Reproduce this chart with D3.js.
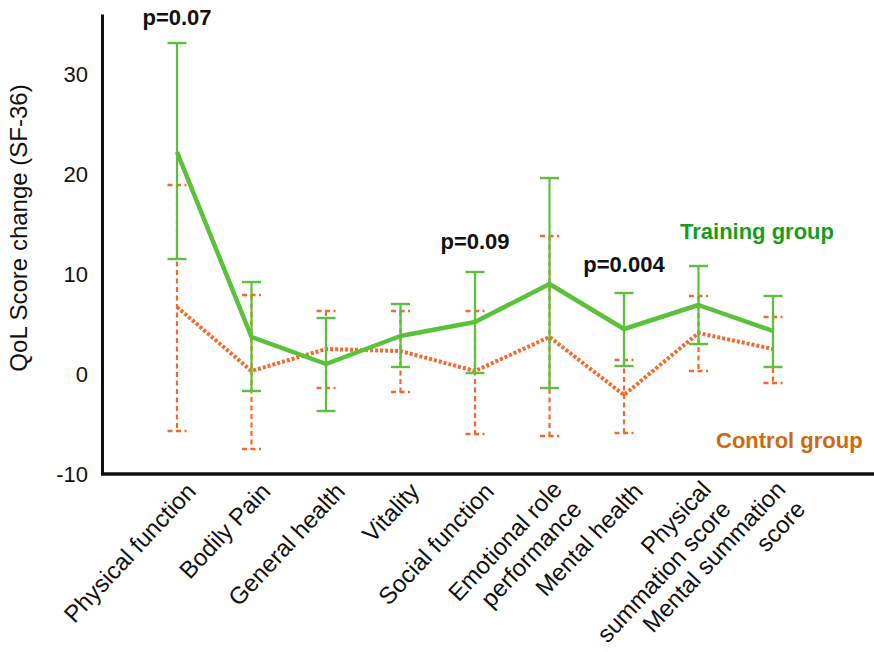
<!DOCTYPE html>
<html>
<head>
<meta charset="utf-8">
<script src="https://cdn.jsdelivr.net/npm/d3@7"></script>
<style>
  html, body { margin: 0; padding: 0; background: #fff; }
  svg { display: block; font-family: "Liberation Sans", Arial, sans-serif; }
</style>
</head>
<body>
<svg id="chart" width="874" height="652"></svg>
<script>
// SF-36 domains (multi-line labels split on "|")
const categories = [
  "Physical function", "Bodily Pain", "General health", "Vitality",
  "Social function", "Emotional role|performance", "Mental health",
  "Physical|summation score", "Mental summation|score"
];

// Training group: mean change and error bar limits
const trainMean = [22.2, 3.7, 1.0, 3.8, 5.2, 9.0, 4.5, 6.9, 4.3];
const trainHigh = [33.1, 9.2, 5.6, 7.0, 10.2, 19.6, 8.1, 10.8, 7.8];
const trainLow  = [11.5, -1.7, -3.7, 0.7, 0.1, -1.4, 0.8, 3.0, 0.7];

// Control group: mean change and error bar limits
const ctrlMean = [6.7, 0.3, 2.5, 2.3, 0.3, 3.7, -2.1, 4.1, 2.5];
const ctrlHigh = [18.9, 7.9, 6.3, 6.3, 6.3, 13.8, 1.4, 7.8, 5.7];
const ctrlLow  = [-5.7, -7.5, -1.4, -1.8, -6.0, -6.2, -5.9, 0.3, -0.9];

const yTicks = [-10, 0, 10, 20, 30];

// p-value annotations: text, category index, vertical value
const pTexts = ["p=0.07", "p=0.09", "p=0.004"];
const pIndex = [0, 4, 6];
const pValueY = [34.9, 12.5, 10.2];

const svg = d3.select("#chart");

const x = d3.scalePoint().domain(categories).range([177, 773]).padding(0);
const y = d3.scaleLinear().domain([-10, 36]).range([474, 14]);

const GREEN = "#5bc13a";
const ORANGE = "#f46a2c";

// Y axis
const yAxis = svg.append("g")
  .attr("transform", "translate(102,0)")
  .call(d3.axisLeft(y).tickValues(yTicks).tickSize(0).tickSizeOuter(0).tickPadding(14).tickFormat(d => String(d)));
yAxis.select(".domain").attr("stroke", "#111").attr("stroke-width", 3);
yAxis.selectAll(".tick text")
  .attr("font-size", 22).attr("fill", "#111")
  .attr("font-family", "Liberation Sans, Arial, sans-serif");

// X axis baseline spanning to the right edge
svg.append("line")
  .attr("x1", 101).attr("x2", 874)
  .attr("y1", y(-10)).attr("y2", y(-10))
  .attr("stroke", "#111").attr("stroke-width", 3.5);

// X axis labels, rotated and right-aligned under each category
const xAxis = svg.append("g")
  .attr("transform", `translate(0,${y(-10)})`)
  .call(d3.axisBottom(x).tickSize(0).tickSizeOuter(0));
xAxis.select(".domain").remove();
xAxis.selectAll(".tick text").each(function(d) {
  const lines = d.split("|");
  const t = d3.select(this);
  const multi = lines.length > 1;
  const v = multi ? 21 : 27;
  t.text(null)
    .attr("transform", "rotate(-47)")
    .attr("text-anchor", "end")
    .attr("x", 0).attr("y", v).attr("dy", null)
    .attr("font-size", 24).attr("fill", "#111")
    .attr("font-family", "Liberation Sans, Arial, sans-serif");
  lines.forEach((line, i) => {
    t.append("tspan")
      .attr("x", multi ? -3 - i : 0)
      .attr("dy", i === 0 ? 0 : 28)
      .text(line);
  });
});

// Y axis title
svg.append("text")
  .attr("transform", "translate(27,228) rotate(-90)")
  .attr("text-anchor", "middle")
  .attr("font-size", 24).attr("fill", "#111")
  .text("QoL Score change (SF-36)");

// Error bars
function errorBars(high, low, color, dash) {
  const g = svg.append("g");
  categories.forEach((c, i) => {
    const cx = x(c);
    g.append("line")
      .attr("x1", cx).attr("x2", cx)
      .attr("y1", y(high[i])).attr("y2", y(low[i]))
      .attr("stroke", color).attr("stroke-width", 2.2)
      .attr("stroke-dasharray", dash);
    [high[i], low[i]].forEach(v => {
      g.append("line")
        .attr("x1", cx - 9.5).attr("x2", cx + 9.5)
        .attr("y1", y(v)).attr("y2", y(v))
        .attr("stroke", color).attr("stroke-width", 2.4)
        .attr("stroke-dasharray", dash);
    });
  });
}

const line = d3.line().x((d, i) => x(categories[i])).y(d => y(d));

// Control group (dashed bars, dotted line)
errorBars(ctrlHigh, ctrlLow, ORANGE, "5,3.5");
svg.append("path")
  .datum(ctrlMean)
  .attr("d", line)
  .attr("fill", "none")
  .attr("stroke", ORANGE).attr("stroke-width", 4)
  .attr("stroke-dasharray", "3,2");

// Training group (solid bars, solid line)
errorBars(trainHigh, trainLow, GREEN, null);
svg.append("path")
  .datum(trainMean)
  .attr("d", line)
  .attr("fill", "none")
  .attr("stroke", GREEN).attr("stroke-width", 4.5)
  .attr("stroke-linejoin", "round");

// p-value annotations
pTexts.forEach((t, k) => {
  svg.append("text")
    .attr("x", x(categories[pIndex[k]]))
    .attr("y", y(pValueY[k]))
    .attr("text-anchor", "middle")
    .attr("font-size", 22).attr("font-weight", "bold").attr("fill", "#111")
    .text(t);
});

// Group labels
svg.append("text")
  .attr("x", 680).attr("y", 239)
  .attr("font-size", 22).attr("font-weight", "bold").attr("fill", "#1a9c1a")
  .text("Training group");
svg.append("text")
  .attr("x", 716).attr("y", 448)
  .attr("font-size", 22).attr("font-weight", "bold").attr("fill", "#cc6a12")
  .text("Control group");
</script>
</body>
</html>
